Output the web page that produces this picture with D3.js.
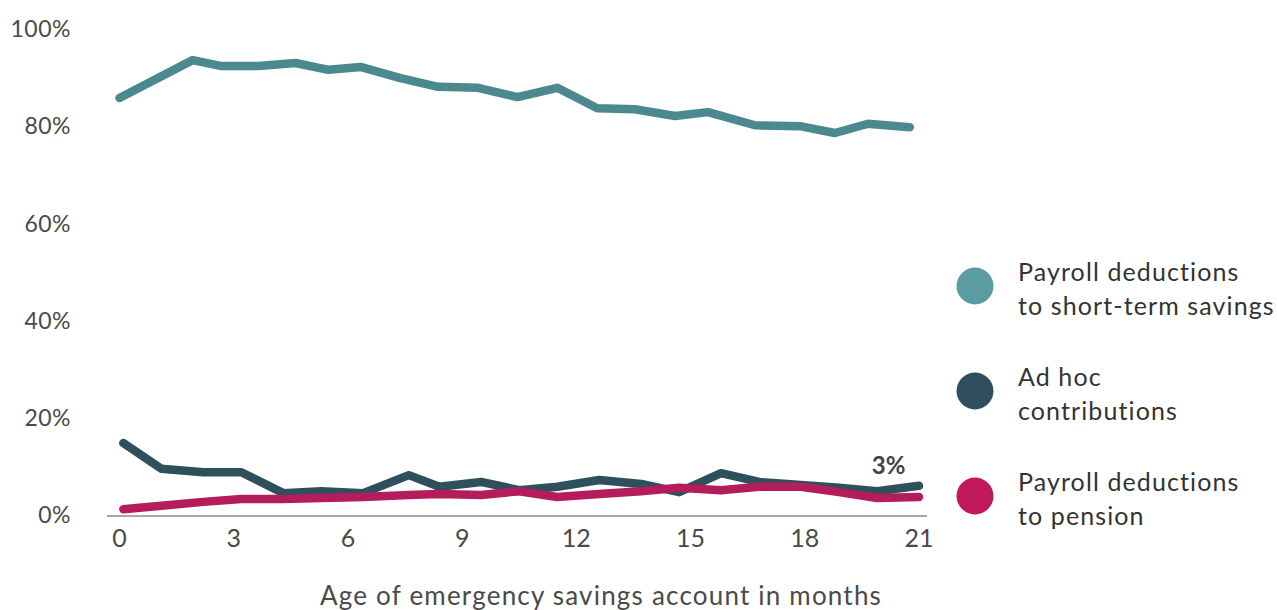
<!DOCTYPE html>
<html>
<head>
<meta charset="utf-8">
<script src="https://cdn.jsdelivr.net/npm/d3@7"></script>
<style>
  body { margin: 0; background: #fff; }
  svg { display: block; }
</style>
</head>
<body>
<script>
const monthsShortTerm = [0, 1.92, 2.65, 3.65, 4.62, 5.49, 6.33, 7.38, 8.37, 9.42, 10.45,
  11.5, 12.55, 13.54, 14.59, 15.46, 16.69, 17.87, 18.79, 19.66, 20.76];
const payrollShortTerm = [85.8, 93.6, 92.4, 92.4, 93.0, 91.6, 92.2, 89.9, 88.1, 87.9, 86.0,
  87.9, 83.7, 83.5, 82.1, 82.9, 80.2, 80.0, 78.6, 80.5, 79.8];

const monthsOther = [0.1, 1.1, 2.2, 3.2, 4.3, 5.3, 6.4, 7.6, 8.4, 9.5, 10.5,
  11.5, 12.6, 13.7, 14.7, 15.8, 16.8, 17.9, 18.9, 19.9, 21];
const adHoc = [14.8, 9.5, 8.8, 8.8, 4.5, 4.9, 4.5, 8.2, 5.8, 6.8, 5.1,
  5.8, 7.2, 6.4, 4.7, 8.6, 6.8, 6.2, 5.6, 4.9, 6.0];
const payrollPension = [1.2, 1.9, 2.7, 3.3, 3.3, 3.5, 3.7, 4.1, 4.3, 4.1, 4.9,
  3.7, 4.3, 4.9, 5.6, 5.1, 5.8, 5.8, 4.7, 3.5, 3.7];

const xTicks = [0, 3, 6, 9, 12, 15, 18, 21];
const yTicks = [0, 20, 40, 60, 80, 100];

const seriesNames = [
  ["Payroll deductions", "to short-term savings"],
  ["Ad hoc", "contributions"],
  ["Payroll deductions", "to pension"]
];
const lineColors = ["#4b898e", "#2e4f5c", "#b51c5c"];
const dotColors = ["#5a9ca1", "#2f4f5c", "#c2185b"];

let canvasW = 1277;
let canvasH = 610;
const font = "Lato, 'Noto Sans', sans-serif";

let svg = d3.select("body")
  .append("svg")
    .attr("width", canvasW)
    .attr("height", canvasH);

let xScale = d3.scaleLinear()
  .domain([0, 21])
  .range([119.5, 919]);
let yScale = d3.scaleLinear()
  .domain([0, 100])
  .range([515, 29]);

// baseline
svg.append("line")
  .attr("x1", 107)
  .attr("x2", 927)
  .attr("y1", yScale(0) + 1)
  .attr("y2", yScale(0) + 1)
  .attr("stroke", "#8a8a8a")
  .attr("stroke-width", 1.5);

// y tick labels
svg.selectAll(".ylab")
  .data(yTicks)
  .enter()
  .append("text")
    .attr("class", "ylab")
    .attr("x", 71)
    .attr("y", d => yScale(d))
    .attr("dy", "0.36em")
    .attr("text-anchor", "end")
    .attr("font-family", font)
    .attr("font-size", "23px")
    .attr("letter-spacing", "0.5px")
    .attr("fill", "#4a4a4a")
    .text(d => d + "%");

// x tick labels
svg.selectAll(".xlab")
  .data(xTicks)
  .enter()
  .append("text")
    .attr("class", "xlab")
    .attr("x", d => xScale(d))
    .attr("y", 547)
    .attr("text-anchor", "middle")
    .attr("font-family", font)
    .attr("font-size", "25px")
    .attr("fill", "#4a4a4a")
    .text(d => d);

svg.append("text")
  .attr("x", 601)
  .attr("y", 605)
  .attr("text-anchor", "middle")
  .attr("font-family", font)
  .attr("font-size", "26px")
  .attr("letter-spacing", "1.2px")
  .attr("fill", "#4a4a4a")
  .text("Age of emergency savings account in months");

let line = d3.line()
  .x(d => xScale(d[0]))
  .y(d => yScale(d[1]));

const series = [
  d3.zip(monthsShortTerm, payrollShortTerm),
  d3.zip(monthsOther, adHoc),
  d3.zip(monthsOther, payrollPension)
];

series.forEach((s, i) => {
  svg.append("path")
    .attr("d", line(s))
    .attr("fill", "none")
    .attr("stroke", lineColors[i])
    .attr("stroke-width", 8.5)
    .attr("stroke-linecap", "round")
    .attr("stroke-linejoin", "round");
});

// end label
svg.append("text")
  .attr("x", xScale(20.2))
  .attr("y", 474)
  .attr("text-anchor", "middle")
  .attr("font-family", font)
  .attr("font-weight", "bold")
  .attr("font-size", "24px")
  .attr("fill", "#444")
  .text("3%");

// legend
const legendY = [286, 391, 496];
let legend = svg.selectAll(".leg")
  .data(seriesNames)
  .enter()
  .append("g")
    .attr("class", "leg")
    .attr("transform", (d, i) => "translate(975," + legendY[i] + ")");

legend.append("circle")
  .attr("r", 18.5)
  .attr("fill", (d, i) => dotColors[i]);

legend.append("text")
  .attr("font-family", font)
  .attr("font-size", "25px")
  .attr("letter-spacing", "1.1px")
  .attr("fill", "#333")
  .selectAll("tspan")
  .data(d => d)
  .enter()
  .append("tspan")
    .attr("x", 43)
    .attr("y", (d, j) => j === 0 ? -5 : 29)
    .text(d => d);
</script>
</body>
</html>
